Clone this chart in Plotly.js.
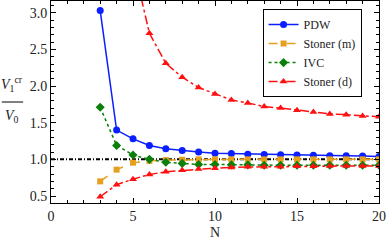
<!DOCTYPE html>
<html><head><meta charset="utf-8">
<script src="https://cdn.plot.ly/plotly-3.0.1.min.js"></script>
<style>html,body{margin:0;padding:0;background:#fff}#c{width:387px;height:240px}</style>
</head><body><div id="c"></div>
<script>
const N = [3,4,5,6,7,8,9,10,11,12,13,14,15,16,17,18,19,20];
const pdw = [3.03,1.40,1.28,1.19,1.145,1.12,1.10,1.085,1.08,1.07,1.068,1.063,1.06,1.055,1.05,1.05,1.045,1.04];
const stonerM = [0.70,0.86,0.955,0.98,0.99,0.995,1.0,1.0,1.0,1.0,1.0,1.0,1.0,1.0,1.0,1.0,1.0,1.0];
const ivc = [1.71,1.19,1.06,1.0,0.96,0.945,0.93,0.93,0.925,0.925,0.92,0.92,0.92,0.92,0.92,0.92,0.92,0.92];
const stonerDLow = [0.49,0.655,0.73,0.795,0.83,0.85,0.87,0.88,0.89,0.90,0.90,0.90,0.905,0.905,0.91,0.91,0.91,0.91];
const NUp = [5,6,7,8,9,10,11,12,13,14,15,16,17,18,19,20];
const stonerDUp = [3.68,2.72,2.31,2.12,1.98,1.89,1.81,1.77,1.72,1.70,1.67,1.645,1.62,1.61,1.59,1.58];
const refX = [0,20];
const refY = [1,1];

const fam = 'Liberation Serif, Times New Roman, serif';
function f(size){ return {family:fam, size:size, color:'#222'}; }
const traces = [
  {x:refX, y:refY, mode:'lines', line:{color:'#000', width:2, dash:'4px,2px,1px,2px'}, showlegend:false, hoverinfo:'skip'},
  {x:N, y:pdw, name:'PDW', mode:'lines+markers', line:{color:'#0a1eff', width:1.5}, marker:{symbol:'circle', size:7, color:'#0a1eff'}},
  {x:N, y:stonerM, name:'Stoner (m)', mode:'lines+markers', line:{color:'#e6a020', width:1.5, dash:'dash'}, marker:{symbol:'square', size:6, color:'#e6a020'}},
  {x:N, y:ivc, name:'IVC', mode:'lines+markers', line:{color:'#0a800a', width:1.5, dash:'dot'}, marker:{symbol:'diamond', size:7, color:'#0a800a'}},
  {x:NUp, y:stonerDUp, name:'Stoner (d)', mode:'lines+markers', line:{color:'#ff1010', width:1.5, dash:'dashdot'}, marker:{symbol:'triangle-up', size:7, color:'#ff1010'}},
  {x:N, y:stonerDLow, name:'Stoner (d)', mode:'lines+markers', line:{color:'#ff1010', width:1.5, dash:'dashdot'}, marker:{symbol:'triangle-up', size:7, color:'#ff1010'}, showlegend:false}
];
const axisCommon = {showgrid:false, zeroline:false, showline:true, linecolor:'#000', linewidth:1, mirror:'allticks', ticks:'inside', ticklen:5, tickcolor:'#000', tickfont:f(14)};
const layout = {
  width:387, height:240,
  margin:{l:51, r:8, t:1, b:37},
  paper_bgcolor:'#fff', plot_bgcolor:'#fff',
  font:f(12),
  xaxis:Object.assign({}, axisCommon, {range:[0,20], tickvals:[0,5,10,15,20], minor:{dtick:1, ticks:'inside', ticklen:3, tickcolor:'#000', showgrid:false}, title:{text:'N', font:f(14), standoff:4}}),
  yaxis:Object.assign({}, axisCommon, {range:[0.405,3.16], tickvals:[0.5,1.0,1.5,2.0,2.5,3.0], ticktext:['0.5','1.0','1.5','2.0','2.5','3.0'], minor:{dtick:0.1, ticks:'inside', ticklen:3, tickcolor:'#000', showgrid:false}}),
  legend:{x:0.645, y:0.96, xanchor:'left', yanchor:'top', bgcolor:'#fff', bordercolor:'#000', borderwidth:1, font:f(12), tracegroupgap:0, itemwidth:30},
  showlegend:true,
  annotations:[
    {xref:'paper', yref:'paper', x:-0.118, y:0.53, xanchor:'center', yanchor:'bottom', text:'<i>V</i><sub>1</sub><sup>cr</sup>', showarrow:false, font:f(14)},
    {xref:'paper', yref:'paper', x:-0.118, y:0.48, xanchor:'center', yanchor:'top', text:'<i>V</i><sub>0</sub>', showarrow:false, font:f(14)}
  ],
  shapes:[
    {type:'line', xref:'paper', yref:'paper', x0:-0.15, x1:-0.085, y0:0.5, y1:0.5, line:{color:'#000', width:1}}
  ]
};
Plotly.newPlot('c', traces, layout, {displayModeBar:false, staticPlot:true});
</script></body></html>
